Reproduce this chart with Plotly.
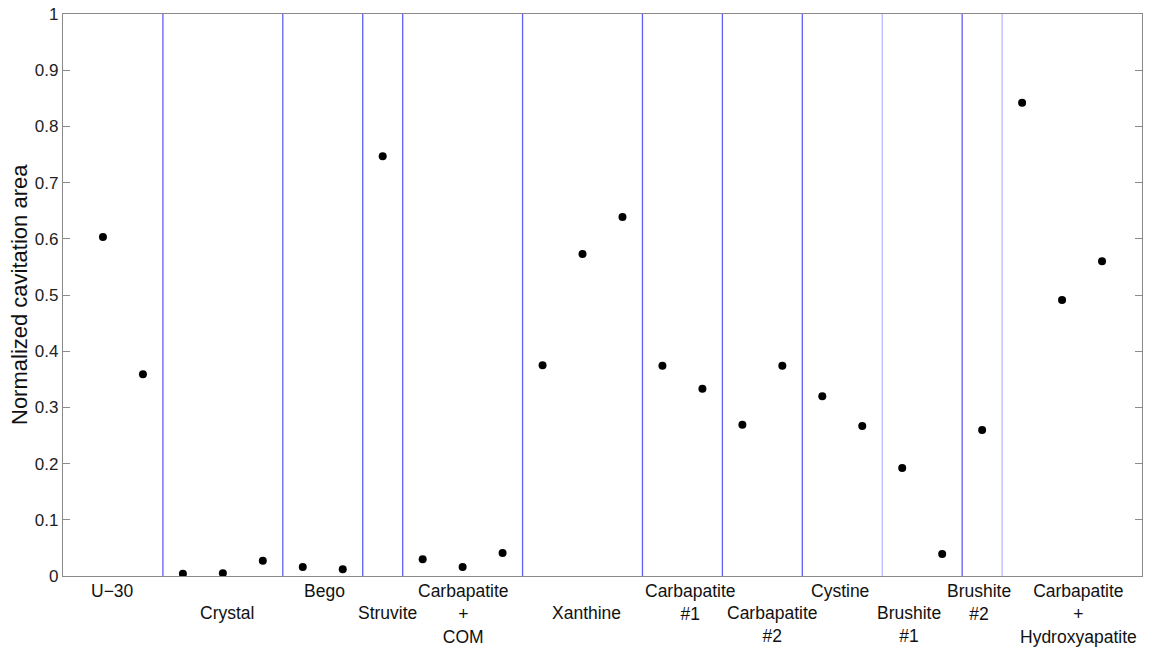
import plotly.graph_objects as go

categories = ["U\u221230", "Crystal", "Bego", "Struvite", "Carbapatite<br>+<br>COM",
              "Xanthine", "Carbapatite<br>#1", "Carbapatite<br>#2", "Cystine",
              "Brushite<br>#1", "Brushite<br>#2", "Carbapatite<br>+<br>Hydroxyapatite"]
group_values = [
    [0.603, 0.359],
    [0.004, 0.005, 0.027],
    [0.016, 0.012],
    [0.747],
    [0.030, 0.016, 0.041],
    [0.375, 0.573, 0.639],
    [0.374, 0.333],
    [0.269, 0.374],
    [0.320, 0.267],
    [0.192, 0.039],
    [0.260],
    [0.842, 0.491, 0.560],
]
y_ticks = [0, 0.1, 0.2, 0.3, 0.4, 0.5, 0.6, 0.7, 0.8, 0.9, 1]
y_tick_labels = ["0", "0.1", "0.2", "0.3", "0.4", "0.5", "0.6", "0.7", "0.8", "0.9", "1"]
y_title = "Normalized cavitation area"

# layout-only: label centres (data x) and vertical level (0 = upper, 1 = lower)
label_x = [1.25, 4.1, 6.55, 8.125, 10.0, 13.1, 15.7, 17.75, 19.45, 21.175, 22.925, 25.4]
label_level = [0, 1, 0, 1, 0, 1, 0, 1, 0, 1, 0, 0]
light_boundaries = {20.5, 23.5}

xs, ys = [], []
boundaries = []
n = 0
for vals in group_values:
    for v in vals:
        n += 1
        xs.append(n)
        ys.append(v)
    boundaries.append(n + 0.5)
boundaries = boundaries[:-1]

fig = go.Figure()
fig.add_trace(go.Scatter(x=xs, y=ys, mode="markers",
                         marker=dict(color="black", size=8), showlegend=False))

for b in boundaries:
    col = "rgb(185,185,255)" if b in light_boundaries else "rgb(95,95,245)"
    fig.add_shape(type="line", xref="x", yref="paper", x0=b, x1=b, y0=0, y1=1,
                  line=dict(color=col, width=1.3), layer="above")

for cat, lx, lv in zip(categories, label_x, label_level):
    fig.add_annotation(x=lx, xref="x", y=0, yref="paper", yanchor="top",
                       text=cat, showarrow=False, yshift=-3 - 22 * lv,
                       font=dict(family="Liberation Sans, Arial", size=17.5, color="#111"))

fig.add_annotation(x=0, xref="paper", y=0.5, yref="paper", text=y_title,
                   textangle=-90, showarrow=False, xanchor="center", yanchor="middle",
                   xshift=-44, font=dict(family="Liberation Sans, Arial", size=22, color="#111"))

fig.update_layout(
    width=1161, height=652,
    margin=dict(l=63, r=19, t=14, b=76),
    plot_bgcolor="white", paper_bgcolor="white",
    font=dict(family="Liberation Sans, Arial", color="#222"),
    xaxis=dict(range=[0, 27], showticklabels=False, ticks="", showgrid=False,
               zeroline=False, showline=True, linecolor="#8a8a8a", linewidth=1.2,
               mirror=True, automargin=False),
    yaxis=dict(range=[0, 1], tickvals=y_ticks, ticktext=y_tick_labels,
               ticks="inside", ticklen=7, tickcolor="#8a8a8a", tickwidth=1.2,
               showgrid=False, zeroline=False, showline=True, linecolor="#8a8a8a",
               linewidth=1.2, mirror="ticks", tickfont=dict(size=17, color="#222"),
               automargin=False, ticklabeloverflow="allow"),
)

fig.write_html("out.html", config={"displayModeBar": False},
               post_script="document.body.style.margin='0';document.body.style.overflow='hidden';")
